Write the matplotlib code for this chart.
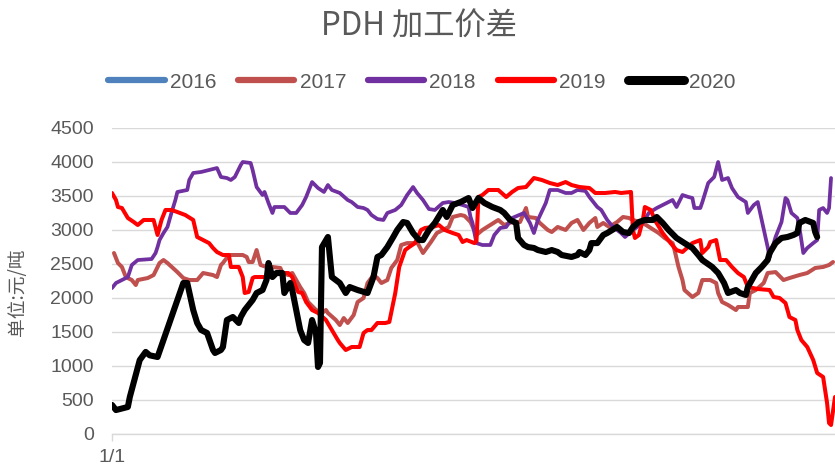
import matplotlib
matplotlib.use("Agg")
import matplotlib.pyplot as plt
from matplotlib.lines import Line2D

# ---------------- data ----------------
years = ["2016", "2017", "2018", "2019", "2020"]
colors = ["#4F81BD", "#C0504D", "#7030A0", "#FF0000", "#000000"]

days_2016 = []
vals_2016 = []

days_2017 = [1, 3, 5, 7, 10, 12, 13, 18, 21, 23, 24, 26, 28, 33, 36, 39, 43, 46, 51, 53, 55, 56, 59, 66, 68, 69, 71, 73, 75, 78, 81, 85, 86, 89, 91, 93, 95, 97, 99, 103, 106, 108, 109, 113, 115, 117, 119, 122, 124, 127, 129, 132, 134, 136, 139, 141, 144, 146, 149, 152, 154, 157, 161, 164, 167, 170, 172, 176, 178, 181, 184, 187, 191, 195, 198, 202, 206, 209, 210, 214, 216, 220, 222, 225, 229, 232, 235, 238, 241, 244, 245, 248, 251, 255, 258, 261, 263, 268, 272, 276, 279, 283, 284, 286, 288, 289, 293, 296, 298, 302, 305, 306, 308, 311, 315, 316, 321, 322, 325, 329, 331, 335, 339, 342, 347, 351, 355, 359, 362, 364]
vals_2017 = [2654, 2507, 2449, 2301, 2257, 2184, 2257, 2286, 2330, 2449, 2507, 2551, 2507, 2374, 2286, 2257, 2257, 2360, 2330, 2301, 2478, 2507, 2625, 2625, 2596, 2522, 2522, 2698, 2478, 2449, 2449, 2434, 2360, 2330, 2360, 2257, 2154, 2066, 1934, 1816, 1772, 1816, 1772, 1669, 1595, 1698, 1625, 1742, 1934, 1993, 2213, 2330, 2286, 2213, 2257, 2434, 2551, 2772, 2800, 2800, 2816, 2654, 2816, 2948, 2993, 3037, 3184, 3213, 3200, 3110, 2919, 2993, 3066, 3140, 3066, 3110, 3110, 3316, 3184, 3169, 3096, 2993, 2963, 3037, 2993, 3096, 3140, 2993, 3096, 3169, 3037, 3096, 3037, 3110, 3184, 3169, 3140, 3096, 3022, 2948, 2875, 2800, 2698, 2449, 2257, 2110, 2007, 2066, 2257, 2257, 2213, 2066, 1934, 1890, 1816, 1860, 1860, 2066, 2110, 2213, 2360, 2374, 2257, 2286, 2330, 2360, 2434, 2449, 2478, 2522]

days_2018 = [0, 2, 5, 8, 10, 13, 20, 22, 23, 24, 26, 28, 30, 32, 33, 38, 39, 41, 45, 53, 55, 58, 60, 62, 65, 66, 70, 71, 73, 76, 77, 79, 81, 82, 87, 90, 93, 96, 98, 101, 104, 107, 109, 111, 115, 119, 121, 124, 127, 129, 131, 134, 137, 139, 143, 146, 149, 152, 154, 157, 160, 163, 167, 170, 173, 177, 180, 181, 182, 184, 187, 191, 193, 196, 199, 202, 208, 211, 213, 215, 219, 221, 225, 229, 232, 235, 239, 241, 245, 247, 250, 253, 257, 259, 263, 268, 271, 275, 280, 283, 285, 288, 291, 293, 294, 297, 298, 301, 304, 306, 308, 311, 313, 316, 320, 321, 324, 326, 328, 331, 332, 335, 338, 340, 341, 343, 346, 347, 349, 351, 354, 356, 357, 359, 361, 362, 363]
vals_2018 = [2139, 2213, 2257, 2301, 2478, 2551, 2566, 2654, 2742, 2845, 2948, 3037, 3243, 3434, 3552, 3581, 3728, 3831, 3846, 3904, 3772, 3757, 3728, 3772, 3948, 3993, 3978, 3875, 3625, 3507, 3552, 3390, 3243, 3331, 3331, 3243, 3243, 3360, 3478, 3698, 3610, 3552, 3654, 3581, 3537, 3434, 3404, 3331, 3316, 3287, 3213, 3154, 3140, 3243, 3287, 3360, 3507, 3625, 3537, 3434, 3301, 3287, 3390, 3404, 3390, 3360, 3331, 3184, 3096, 2800, 2772, 2772, 2919, 3022, 3037, 3169, 3243, 3096, 2948, 3140, 3390, 3581, 3581, 3537, 3537, 3581, 3567, 3478, 3331, 3287, 3140, 3037, 2948, 2890, 2993, 3096, 3243, 3316, 3390, 3434, 3331, 3507, 3478, 3463, 3316, 3316, 3400, 3684, 3772, 3993, 3728, 3757, 3610, 3478, 3404, 3243, 3360, 3404, 3140, 2742, 2596, 2890, 3110, 3463, 3434, 3243, 3169, 3037, 2654, 2728, 2800, 2845, 3287, 3316, 3243, 3316, 3757]

days_2019 = [0, 2, 3, 5, 8, 11, 13, 16, 21, 23, 25, 27, 30, 33, 37, 41, 43, 46, 49, 51, 53, 56, 59, 60, 64, 66, 67, 69, 71, 72, 79, 82, 89, 91, 92, 94, 96, 98, 101, 104, 108, 111, 114, 115, 118, 121, 125, 127, 129, 131, 134, 138, 140, 143, 145, 148, 150, 153, 156, 158, 162, 165, 168, 172, 175, 177, 179, 183, 184, 185, 187, 190, 195, 199, 202, 205, 209, 213, 217, 221, 225, 229, 232, 236, 241, 244, 249, 254, 257, 262, 263, 264, 266, 268, 269, 272, 274, 278, 282, 285, 288, 293, 297, 298, 301, 302, 305, 307, 310, 313, 316, 319, 321, 326, 332, 334, 337, 340, 342, 345, 346, 348, 351, 354, 356, 359, 361, 362, 363, 365]
vals_2019 = [3537, 3434, 3331, 3316, 3169, 3110, 3066, 3140, 3140, 2919, 3140, 3287, 3287, 3257, 3213, 3140, 2890, 2845, 2800, 2728, 2669, 2625, 2625, 2449, 2449, 2301, 2066, 2081, 2286, 2301, 2301, 2360, 2360, 2301, 2213, 2081, 2066, 1934, 1816, 1772, 1669, 1522, 1375, 1331, 1228, 1272, 1272, 1478, 1522, 1522, 1625, 1625, 1640, 2066, 2449, 2698, 2742, 2800, 2993, 3022, 3037, 3066, 2993, 2948, 2919, 2816, 2845, 2800, 2830, 3478, 3507, 3581, 3581, 3478, 3552, 3610, 3625, 3757, 3728, 3684, 3654, 3698, 3654, 3625, 3610, 3537, 3537, 3552, 3537, 3552, 2993, 2875, 2919, 3140, 3331, 3287, 3140, 2948, 2800, 2698, 2669, 2800, 2845, 2654, 2742, 2816, 2845, 2551, 2551, 2449, 2360, 2301, 2154, 2125, 2110, 2007, 1993, 1919, 1713, 1669, 1522, 1375, 1272, 1081, 890, 831, 449, 154, 125, 537]

days_2020 = [0, 2, 8, 9, 14, 17, 19, 23, 30, 36, 38, 41, 43, 45, 48, 51, 52, 55, 56, 58, 61, 64, 65, 67, 71, 73, 76, 78, 79, 81, 83, 86, 87, 90, 91, 93, 95, 97, 99, 101, 103, 104, 105, 106, 109, 110, 111, 113, 115, 118, 120, 124, 129, 132, 134, 136, 139, 142, 144, 147, 149, 152, 155, 157, 160, 163, 167, 169, 172, 176, 178, 180, 182, 185, 188, 192, 196, 198, 201, 204, 205, 208, 210, 213, 215, 219, 222, 225, 227, 232, 235, 236, 239, 241, 242, 245, 248, 250, 255, 258, 261, 263, 266, 269, 273, 275, 278, 281, 285, 289, 293, 296, 298, 303, 306, 309, 311, 315, 317, 320, 321, 325, 328, 331, 332, 335, 338, 341, 344, 346, 347, 350, 354, 355, 356]
vals_2020 = [420, 345, 390, 537, 1080, 1200, 1150, 1125, 1713, 2213, 2213, 1816, 1625, 1522, 1478, 1228, 1184, 1228, 1272, 1669, 1713, 1625, 1713, 1816, 1963, 2066, 2110, 2257, 2507, 2301, 2360, 2360, 2066, 2213, 2110, 1816, 1522, 1375, 1331, 1669, 1478, 978, 1037, 2742, 2890, 2596, 2301, 2257, 2213, 2066, 2154, 2110, 2066, 2301, 2596, 2625, 2742, 2890, 2993, 3110, 3096, 2948, 2845, 2845, 2993, 3096, 3287, 3184, 3360, 3404, 3434, 3463, 3316, 3463, 3390, 3331, 3287, 3243, 3140, 3096, 2875, 2772, 2742, 2728, 2698, 2669, 2698, 2669, 2625, 2596, 2625, 2669, 2625, 2698, 2800, 2800, 2919, 2948, 3037, 2963, 2948, 3037, 3110, 3140, 3140, 3184, 3096, 2993, 2875, 2800, 2728, 2625, 2551, 2449, 2360, 2213, 2066, 2110, 2066, 2037, 2154, 2360, 2449, 2551, 2654, 2800, 2875, 2890, 2919, 2948, 3096, 3140, 3096, 2963, 2890]

y_ticks = [0, 500, 1000, 1500, 2000, 2500, 3000, 3500, 4000, 4500]
x_tick_label = "1/1"
title_text = "PDH 加工价差"
ylabel_text = "单位:元/吨"

series_days = [days_2016, days_2017, days_2018, days_2019, days_2020]
series_vals = [vals_2016, vals_2017, vals_2018, vals_2019, vals_2020]
widths = [2.9, 2.9, 2.7, 2.9, 4.4]

# ---------------- figure ----------------
plt.rcParams['font.family'] = ['Liberation Sans', 'Noto Sans CJK SC', 'DejaVu Sans']
gray = "#595959"

fig = plt.figure(figsize=(8.35, 4.67), dpi=100)
ax = fig.add_axes([112 / 835, 33.5 / 467, 1 - 112 / 835, (433.5 - 127.5) / 467])

for d, v, c, w in zip(series_days, series_vals, colors, widths):
    ax.plot(d, v, color=c, lw=w, solid_joinstyle='round', solid_capstyle='round')

ax.set_xlim(0, 365)
ax.set_ylim(0, 4500)
ax.set_yticks(y_ticks)
ax.set_yticklabels([str(t) for t in y_ticks])
ax.set_xticks([0])
ax.set_xticklabels([x_tick_label])
ax.grid(axis='y', color='#D9D9D9', lw=1.0)
ax.set_axisbelow(True)
for s in ['top', 'right', 'left']:
    ax.spines[s].set_visible(False)
ax.spines['bottom'].set_color('#D9D9D9')
ax.spines['bottom'].set_linewidth(1.0)
ax.tick_params(axis='y', length=0, pad=13, labelsize=14, labelcolor=gray)
ax.tick_params(axis='x', length=5, width=1, color='#D9D9D9', pad=6, labelsize=14, labelcolor=gray)

fig.text(419 / 835, 1 - 26 / 467, title_text, ha='center', va='center', fontsize=22.5,
         color=gray, family=['Noto Sans CJK SC', 'DejaVu Sans'])
fig.text(18 / 835, 1 - 292 / 467, ylabel_text, ha='center', va='center', rotation=90,
         fontsize=13.5, color=gray, family=['Noto Sans CJK SC', 'DejaVu Sans'])

handles = [Line2D([], [], color=c, lw=(6.5 if y == "2020" else 4.5), solid_capstyle='round')
           for c, y in zip(colors, years)]
leg = fig.legend(handles, years, loc='center', bbox_to_anchor=(422 / 835, 1 - 82 / 467),
                 ncol=5, frameon=False, fontsize=15, handlelength=2.7, handletextpad=0.25,
                 columnspacing=1.05)
for t in leg.get_texts():
    t.set_color(gray)

fig.savefig("out.png", dpi=100)
